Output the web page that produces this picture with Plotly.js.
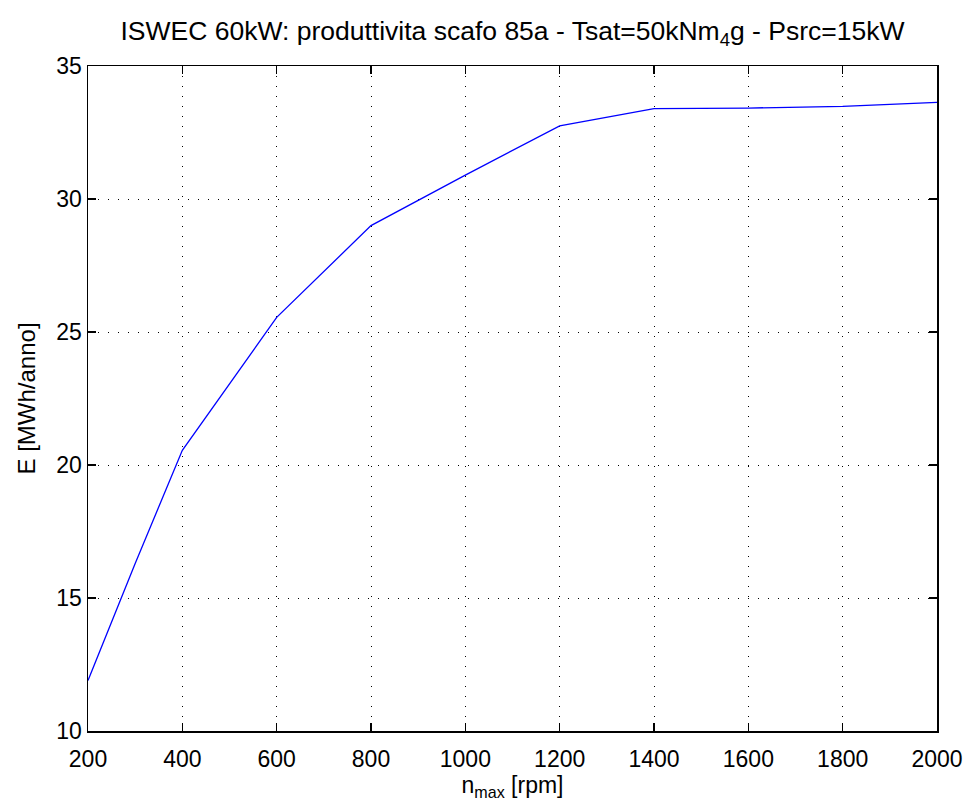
<!DOCTYPE html>
<html>
<head>
<meta charset="utf-8">
<script src="https://cdn.plot.ly/plotly-3.0.1.min.js"></script>
<style>html,body{margin:0;padding:0;background:#fff;}#chart{width:966px;height:807px;}</style>
</head>
<body>
<div id="chart"></div>
<script>
// Data
const nMax = [200, 300, 400, 600, 800, 1000, 1200, 1400, 1600, 1800, 2000];
const energy = [11.9, 16.3, 20.55, 25.55, 29.0, 30.9, 32.75, 33.4, 33.42, 33.48, 33.63];
const xTicks = [200, 400, 600, 800, 1000, 1200, 1400, 1600, 1800, 2000];
const yTicks = [10, 15, 20, 25, 30, 35];

const fontFam = '"Liberation Sans", Arial, sans-serif';

const trace = {
  x: nMax, y: energy, type: 'scatter', mode: 'lines',
  line: {color: '#0000ff', width: 1.3},
  hoverinfo: 'skip'
};

const axisCommon = {
  showline: true, linecolor: '#000', linewidth: 1.5, mirror: 'ticks',
  ticks: 'inside', ticklen: 8, tickwidth: 1.5, tickcolor: '#000',
  showgrid: true, gridcolor: '#000', gridwidth: 1, griddash: '1px,9px',
  zeroline: false,
  tickfont: {family: fontFam, size: 23, color: '#000'}
};

const layout = {
  width: 966, height: 807,
  paper_bgcolor: '#fff', plot_bgcolor: '#fff',
  margin: {l: 88, r: 29, t: 66, b: 76},
  showlegend: false,
  title: {
    text: 'ISWEC 60kW: produttivita scafo 85a - Tsat=50kNm<sub>4</sub>g - Psrc=15kW',
    font: {family: fontFam, size: 26.5, color: '#000'},
    x: 0.5, xanchor: 'center', xref: 'paper',
    y: 0.962, yanchor: 'middle', yref: 'container'
  },
  xaxis: Object.assign({}, axisCommon, {
    range: [200, 2000], tickvals: xTicks, ticktext: xTicks.map(String),
    ticklabelstandoff: 7,
    title: {text: 'n<sub>max</sub> [rpm]', font: {family: fontFam, size: 23, color: '#000'}, standoff: 0}
  }),
  yaxis: Object.assign({}, axisCommon, {
    range: [10, 35], tickvals: yTicks, ticktext: yTicks.map(String),
    title: {text: 'E [MWh/anno]', font: {family: fontFam, size: 24, color: '#000'}, standoff: 14}
  })
};

Plotly.newPlot('chart', [trace], layout, {staticPlot: true, displayModeBar: false});
</script>
</body>
</html>
